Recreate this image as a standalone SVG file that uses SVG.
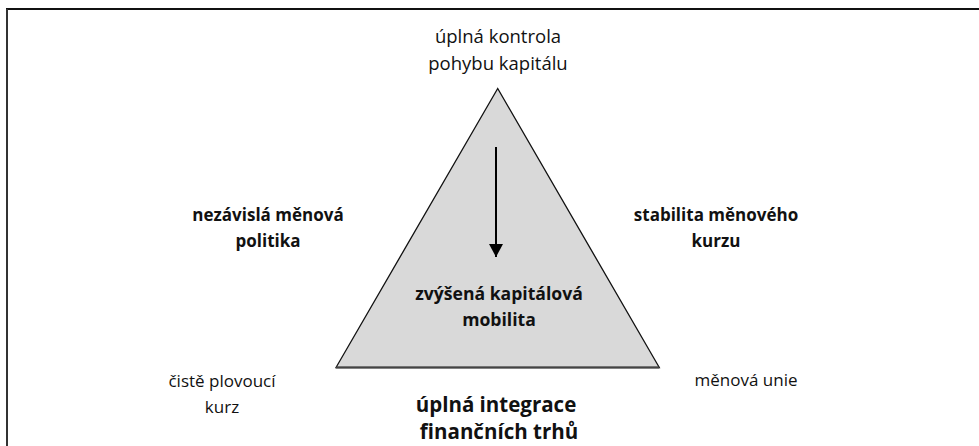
<svg xmlns="http://www.w3.org/2000/svg" width="979" height="446" viewBox="0 0 979 446">
  <defs>
    <style>
      .lbl { font-family: "Open Sans", "Noto Sans", "DejaVu Sans", sans-serif; font-size: 17px; fill: #111; text-anchor: middle; }
      .b { font-weight: bold; }
      .tri { fill: #d9d9d9; stroke: #111; stroke-width: 1.3; stroke-linejoin: miter; }
      .base { stroke: #444; stroke-width: 2.2; }
      .frame { fill: none; }
    </style>
    <!-- solid arrowhead, tip at the line end -->
    <marker id="head" viewBox="0 0 13 14" refX="13" refY="7" markerWidth="13" markerHeight="14" markerUnits="userSpaceOnUse" orient="auto">
      <path d="M0,0 L13,7 L0,14 Z" fill="#000"/>
    </marker>
  </defs>
  <rect width="979" height="446" fill="#fff"/>

  <!-- frame: top and left edges -->
  <line class="frame" x1="6" y1="9" x2="979" y2="9" stroke="#111" stroke-width="1.8"/>
  <line class="frame" x1="7" y1="9" x2="7" y2="446" stroke="#333" stroke-width="2"/>

  <g id="triangle">
    <polygon class="tri" points="497.7,88.5 336,367.5 659.3,367.5"/>
    <line class="base" x1="336" y1="367.5" x2="659.3" y2="367.5"/>
  </g>

  <g id="connectors">
    <line x1="496" y1="147" x2="496" y2="257" stroke="#000" stroke-width="2" marker-end="url(#head)"/>
  </g>

  <g id="top-label">
    <text class="lbl" x="498" y="43" style="font-size:18.5px">úplná kontrola</text>
    <text class="lbl" x="498" y="70" style="font-size:18.5px">pohybu kapitálu</text>
  </g>

  <g id="left-label">
    <text class="lbl b" x="268" y="221">nezávislá měnová</text>
    <text class="lbl b" x="268" y="247">politika</text>
  </g>

  <g id="right-label">
    <text class="lbl b" x="716" y="221">stabilita měnového</text>
    <text class="lbl b" x="716" y="247">kurzu</text>
  </g>

  <g id="center-label">
    <text class="lbl b" x="499" y="300" style="font-size:17.6px">zvýšená kapitálová</text>
    <text class="lbl b" x="499" y="326" style="font-size:17.6px">mobilita</text>
  </g>

  <g id="float-label">
    <text class="lbl" x="222" y="387">čistě plovoucí</text>
    <text class="lbl" x="222" y="413">kurz</text>
  </g>

  <g id="union-label">
    <text class="lbl" x="746" y="386">měnová unie</text>
  </g>

  <g id="integration-label">
    <text class="lbl b" x="496" y="412" style="font-size:20.5px">úplná integrace</text>
    <text class="lbl b" x="499" y="439" style="font-size:20.5px">finančních trhů</text>
  </g>
</svg>
